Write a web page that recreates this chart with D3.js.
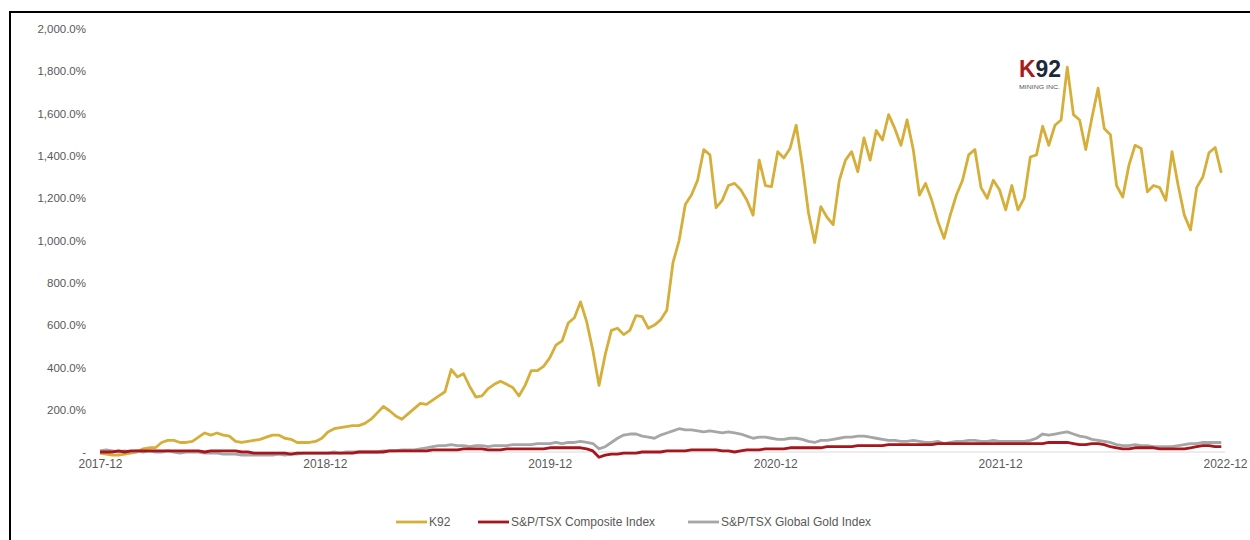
<!DOCTYPE html>
<html>
<head>
<meta charset="utf-8">
<script src="https://cdn.jsdelivr.net/npm/d3@7"></script>
<style>
  body { margin: 0; background: #fff; }
  svg { display: block; }
  text { font-family: "Liberation Sans", Arial, sans-serif; }
</style>
</head>
<body>
<div id="chart"></div>
<script>
// series are sampled every 10 days starting at firstDate
const firstDate = "2017-12-01";
const stepDays = 10;

const seriesNames = ["K92", "S&P/TSX Composite Index", "S&P/TSX Global Gold Index"];
const seriesColors = ["#d6ae3a", "#a8161d", "#a6a6a6"];

const k92 = [
  -5, -10, -15, -15, -10, -5, 0, 15, 20, 20,
  45, 55, 55, 45, 45, 50, 70, 90, 80, 90,
  80, 75, 50, 45, 50, 55, 60, 70, 80, 80,
  65, 60, 45, 45, 45, 50, 65, 95, 110, 115,
  120, 125, 125, 135, 155, 185, 215, 195, 170, 155,
  180, 205, 230, 225, 245, 265, 285, 390, 355, 370,
  310, 260, 265, 300, 320, 335, 320, 305, 265, 315,
  385, 385, 405, 445, 505, 525, 610, 635, 710, 615,
  480, 315, 460, 575, 585, 555, 575, 645, 640, 585,
  600, 625, 670, 895, 1000, 1170, 1215, 1285, 1430, 1405,
  1155, 1190, 1260, 1270, 1240, 1190, 1120, 1380, 1260, 1255,
  1420, 1390, 1435, 1545, 1355, 1130, 990, 1160, 1110, 1075,
  1285, 1380, 1420, 1325, 1485, 1380, 1520, 1475, 1595, 1530,
  1450, 1570, 1430, 1215, 1270, 1190, 1090, 1010, 1120, 1215,
  1285, 1405, 1430, 1250, 1200, 1285, 1240, 1145, 1260, 1145,
  1200, 1395, 1405, 1540, 1450, 1545, 1570, 1820, 1595, 1570,
  1430, 1580, 1720, 1530, 1500, 1260, 1205, 1355, 1450, 1435,
  1230, 1260, 1250, 1190, 1420, 1260, 1120, 1050, 1250, 1300,
  1415, 1440, 1320
];

const composite = [
  0, 0, 0, 5, 0, 5, 5, 5, 5, 5,
  5, 5, 5, 5, 5, 5, 5, 0, 5, 5,
  5, 5, 5, 0, 0, -5, -5, -5, -5, -5,
  -5, -10, -5, -5, -5, -5, -5, -5, -5, -5,
  -5, -5, 0, 0, 0, 0, 0, 5, 5, 5,
  5, 5, 5, 5, 10, 10, 10, 10, 10, 15,
  15, 15, 15, 10, 10, 10, 15, 15, 15, 15,
  15, 15, 15, 20, 20, 20, 20, 20, 20, 15,
  5, -25, -15, -10, -10, -5, -5, -5, 0, 0,
  0, 0, 5, 5, 5, 5, 10, 10, 10, 10,
  10, 5, 5, 0, 5, 10, 10, 10, 15, 15,
  15, 15, 20, 20, 20, 20, 20, 20, 25, 25,
  25, 25, 25, 30, 30, 30, 30, 30, 35, 35,
  35, 35, 35, 35, 35, 35, 40, 40, 40, 40,
  40, 40, 40, 40, 40, 40, 40, 40, 40, 40,
  40, 40, 40, 40, 45, 45, 45, 45, 40, 35,
  35, 40, 40, 35, 25, 20, 15, 15, 20, 20,
  20, 20, 15, 15, 15, 15, 15, 20, 25, 30,
  30, 25, 25
];

const gold = [
  5, 10, 5, 0, 5, 0, 5, 0, 5, 0,
  0, 5, 0, -5, 0, 0, 0, -5, -5, -5,
  -10, -10, -10, -15, -15, -15, -15, -15, -15, -10,
  -15, -10, -10, -5, -5, -5, -5, -5, 0, -5,
  0, 0, 0, 0, 0, 0, 5, 5, 5, 10,
  10, 10, 15, 20, 25, 30, 30, 35, 30, 30,
  25, 30, 30, 25, 30, 30, 30, 35, 35, 35,
  35, 40, 40, 40, 45, 40, 45, 45, 50, 45,
  40, 15, 25, 45, 65, 80, 85, 85, 75, 70,
  65, 80, 90, 100, 110, 105, 105, 100, 95, 100,
  95, 90, 95, 90, 85, 75, 65, 70, 70, 65,
  60, 60, 65, 65, 60, 50, 45, 55, 55, 60,
  65, 70, 70, 75, 75, 70, 65, 60, 55, 55,
  50, 50, 55, 50, 45, 45, 50, 40, 45, 50,
  50, 55, 55, 50, 50, 55, 50, 50, 50, 50,
  50, 55, 65, 85, 80, 85, 90, 95, 85, 75,
  70, 60, 55, 50, 45, 35, 30, 30, 35, 30,
  30, 25, 25, 25, 25, 30, 35, 40, 40, 45,
  45, 45, 45
];

const xTickLabels = ["2017-12", "2018-12", "2019-12", "2020-12", "2021-12", "2022-12"];
const yTicks = [0, 200, 400, 600, 800, 1000, 1200, 1400, 1600, 1800, 2000];

const width = 1250, height = 540;
const margin = { left: 100, right: 25, top: 29, bottom: 88 };

const svg = d3.select("#chart").append("svg")
  .attr("width", width)
  .attr("height", height);

// outer frame (left and top edges visible)
svg.append("rect")
  .attr("x", 10).attr("y", 12)
  .attr("width", 1300).attr("height", 600)
  .attr("fill", "none")
  .attr("stroke", "#000")
  .attr("stroke-width", 2);

const parseMonth = d3.timeParse("%Y-%m");
const start = d3.timeParse("%Y-%m-%d")(firstDate);
const dates = k92.map((d, i) => d3.timeDay.offset(start, i * stepDays));

const x = d3.scaleTime()
  .domain([parseMonth(xTickLabels[0]), parseMonth(xTickLabels[xTickLabels.length - 1])])
  .range([margin.left, width - margin.right]);

const y = d3.scaleLinear()
  .domain([0, 2000])
  .range([height - margin.bottom, margin.top]);

// y axis labels
const fmt = d3.format(",.1f");
const yAxis = svg.append("g")
  .attr("transform", "translate(" + (margin.left - 14) + ",0)")
  .call(d3.axisLeft(y).tickValues(yTicks).tickSize(0)
    .tickFormat(d => d === 0 ? "-" : fmt(d) + "%"));
yAxis.select(".domain").remove();
yAxis.selectAll("text")
  .attr("x", 0)
  .attr("font-size", 11.5)
  .attr("fill", "#595959")
  .attr("font-family", "Liberation Sans, Arial, sans-serif");

// x axis baseline and labels
svg.append("line")
  .attr("x1", x.range()[0]).attr("x2", x.range()[1])
  .attr("y1", y(0)).attr("y2", y(0))
  .attr("stroke", "#d9d9d9")
  .attr("stroke-width", 1);

const xAxis = svg.append("g")
  .attr("transform", "translate(0," + (y(0) + 4) + ")")
  .call(d3.axisBottom(x).tickValues(xTickLabels.map(parseMonth)).tickSize(0)
    .tickFormat(d3.timeFormat("%Y-%m")));
xAxis.select(".domain").remove();
xAxis.selectAll("text")
  .attr("font-size", 12)
  .attr("fill", "#595959")
  .attr("font-family", "Liberation Sans, Arial, sans-serif");

// lines, drawn back to front
const line = d3.line()
  .x((d, i) => x(dates[i]))
  .y(d => y(d));

const allSeries = [k92, composite, gold];
[0, 2, 1].forEach(function (k) {
  svg.append("path")
    .datum(allSeries[k])
    .attr("d", line)
    .attr("fill", "none")
    .attr("stroke", seriesColors[k])
    .attr("stroke-width", 2.8)
    .attr("stroke-linejoin", "round");
});

// legend
const legendX = [396, 478, 688];
const legend = svg.append("g");
seriesNames.forEach(function (name, i) {
  legend.append("line")
    .attr("x1", legendX[i]).attr("x2", legendX[i] + 31)
    .attr("y1", 522).attr("y2", 522)
    .attr("stroke", seriesColors[i])
    .attr("stroke-width", 2.8);
  legend.append("text")
    .attr("x", legendX[i] + 33)
    .attr("y", 526)
    .attr("font-size", 12)
    .attr("fill", "#595959")
    .text(name);
});

// company mark
const logo = svg.append("g");
logo.append("text")
  .attr("x", 1019).attr("y", 77)
  .attr("font-size", 24).attr("font-weight", "bold")
  .attr("font-family", "Liberation Sans Narrow, Liberation Sans, Arial, sans-serif")
  .attr("textLength", 42).attr("lengthAdjust", "spacingAndGlyphs")
  .selectAll("tspan")
  .data([["K", "#a51d21"], ["92", "#1e2838"]])
  .enter().append("tspan")
  .attr("fill", d => d[1])
  .text(d => d[0]);
logo.append("text")
  .attr("x", 1019).attr("y", 88.5)
  .attr("font-size", 5.5)
  .attr("fill", "#555")
  .attr("textLength", 41).attr("lengthAdjust", "spacingAndGlyphs")
  .text("MINING INC.");
</script>
</body>
</html>
